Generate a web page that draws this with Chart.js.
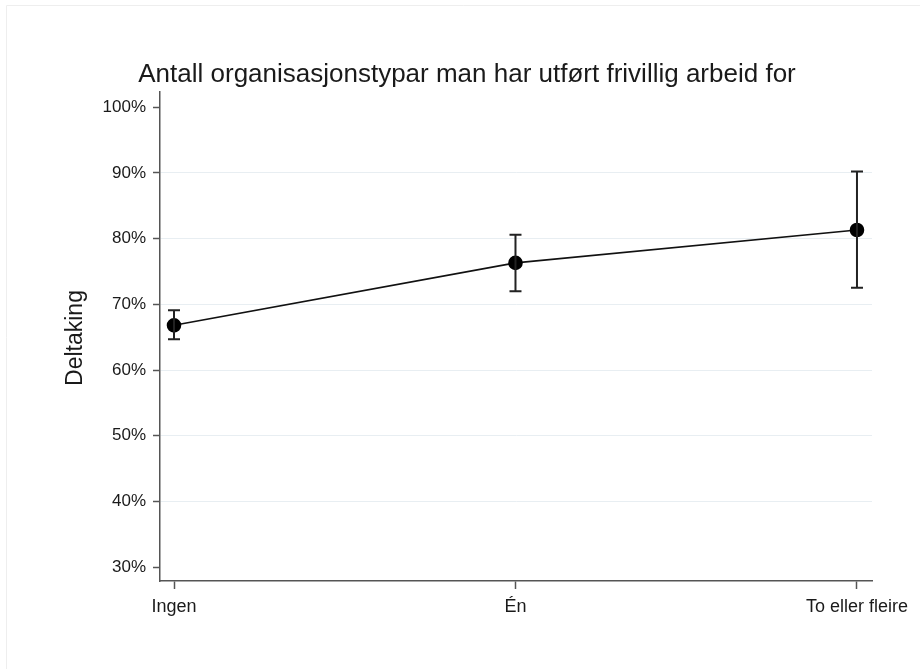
<!DOCTYPE html>
<html>
<head>
<meta charset="utf-8">
<script src="https://cdn.jsdelivr.net/npm/chart.js@4/dist/chart.umd.min.js"></script>
<style>
html,body{margin:0;padding:0;background:#fff;}
</style>
</head>
<body>
<canvas id="grafico" width="920" height="669"></canvas>
<script>
// data
var kategorier = ['Ingen', 'Én', 'To eller fleire'];
var deltaking = [66.8, 76.3, 81.3];
var nedre = [64.7, 72.0, 72.5];
var ovre = [69.1, 80.6, 90.2];
var yTicks = [30, 40, 50, 60, 70, 80, 90, 100];
var tittel = 'Antall organisasjonstypar man har utført frivillig arbeid for';
var yTittel = 'Deltaking';

var FONT = '"Liberation Sans", Arial, sans-serif';
var AKSE = '#555555';
var TEKST = '#1a1a1a';

var punkter = [];
for (var i = 0; i < deltaking.length; i++) {
  punkter.push({x: i, y: deltaking[i]});
}

// feilstolper + titler
var ekstra = {
  id: 'ekstra',
  beforeDraw: function(chart) {
    var ctx = chart.ctx;
    ctx.save();
    ctx.strokeStyle = '#eeeeee';
    ctx.lineWidth = 1;
    ctx.beginPath();
    ctx.moveTo(6.5, 669);
    ctx.lineTo(6.5, 5.5);
    ctx.lineTo(920, 5.5);
    ctx.stroke();
    ctx.restore();
  },
  afterDatasetsDraw: function(chart) {
    var ctx = chart.ctx;
    var xs = chart.scales.x, ys = chart.scales.y;
    ctx.save();
    ctx.strokeStyle = '#222';
    ctx.lineWidth = 2;
    for (var i = 0; i < deltaking.length; i++) {
      var px = xs.getPixelForValue(i);
      var y1 = ys.getPixelForValue(nedre[i]);
      var y2 = ys.getPixelForValue(ovre[i]);
      ctx.beginPath();
      ctx.moveTo(px, y1); ctx.lineTo(px, y2);
      ctx.moveTo(px - 6, y1); ctx.lineTo(px + 6, y1);
      ctx.moveTo(px - 6, y2); ctx.lineTo(px + 6, y2);
      ctx.stroke();
    }
    ctx.restore();
  },
  afterDraw: function(chart) {
    var ctx = chart.ctx;
    ctx.save();
    ctx.fillStyle = TEKST;
    ctx.textAlign = 'center';
    ctx.textBaseline = 'middle';
    ctx.font = '26px ' + FONT;
    ctx.fillText(tittel, 467, 75);
    ctx.translate(76, 338);
    ctx.rotate(-Math.PI / 2);
    ctx.font = '23px ' + FONT;
    ctx.fillText(yTittel, 0, 0);
    ctx.restore();
  }
};

var myChart = new Chart(document.getElementById('grafico'), {
  type: 'line',
  data: {
    datasets: [{
      label: yTittel,
      data: punkter,
      borderColor: '#111',
      borderWidth: 1.6,
      backgroundColor: '#000',
      pointBackgroundColor: '#000',
      pointBorderColor: '#000',
      pointRadius: 6.5,
      tension: 0
    }]
  },
  options: {
    responsive: false,
    animation: false,
    layout: {padding: {top: 92, right: 48, left: 0, bottom: 0}},
    plugins: {legend: {display: false}, tooltip: {enabled: false}},
    scales: {
      x: {
        type: 'linear',
        min: -0.041,
        max: 2.044,
        afterBuildTicks: function(s) {
          s.ticks = kategorier.map(function(k, i) { return {value: i}; });
        },
        afterFit: function(s) { s.height = 88; },
        ticks: {
          callback: function(v) { return kategorier[v]; },
          font: {size: 18, family: FONT},
          color: TEKST,
          padding: 7,
          maxRotation: 0
        },
        grid: {drawOnChartArea: false, tickLength: 8, tickColor: AKSE, tickWidth: 1.5},
        border: {color: AKSE, width: 1.5}
      },
      y: {
        min: 27.9,
        max: 102.3,
        afterBuildTicks: function(s) {
          s.ticks = yTicks.map(function(v) { return {value: v}; });
        },
        afterFit: function(s) { s.width = 160; },
        ticks: {
          callback: function(v) { return v + '%'; },
          font: {size: 17, family: FONT},
          color: TEKST,
          padding: 7
        },
        grid: {
          color: function(c) {
            var v = c.tick ? c.tick.value : 0;
            return (v > 30 && v < 100) ? '#e8eef2' : 'rgba(0,0,0,0)';
          },
          lineWidth: 1,
          tickLength: 7,
          tickColor: AKSE,
          tickWidth: 1.5
        },
        border: {color: AKSE, width: 1.5}
      }
    }
  },
  plugins: [ekstra]
});
</script>
</body>
</html>
